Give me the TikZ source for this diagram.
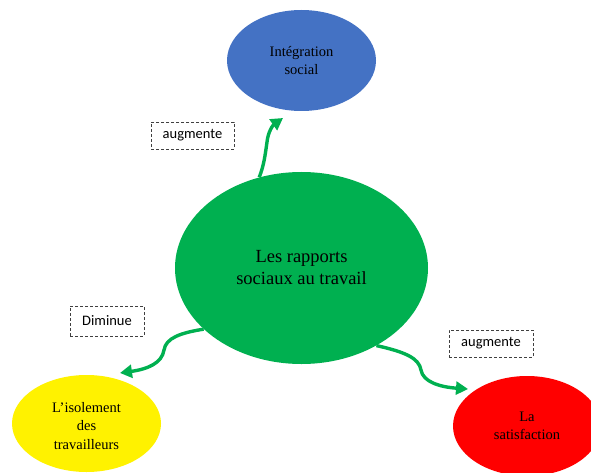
\documentclass[tikz,border=0pt]{standalone}
\usepackage{fontspec}
\setmainfont{Liberation Serif}
\newfontfamily\labelfont{Carlito}
\usetikzlibrary{arrows.meta, shapes.geometric}

\begin{document}
\begin{tikzpicture}[x=1pt, y=-1pt, >={Triangle[length=12pt, width=13pt]},
    bubble/.style={ellipse, inner sep=0pt, align=center, text=black,
        font=\fontsize{14.5}{18.5}\selectfont},
    link/.style={->, line width=3.4pt, draw=arrowgreen},
    verb_box/.style={draw=black!75, dash pattern=on 3pt off 2pt, thin,
        minimum height=27pt, inner sep=0pt, font=\labelfont\fontsize{14.5}{16}\selectfont}
]
\definecolor{bluebub}{HTML}{4472C4}
\definecolor{greenbub}{HTML}{00B050}
\definecolor{arrowgreen}{HTML}{00B050}

% Fix the page size
\useasboundingbox (0,0) rectangle (591,473);
\clip (0,0) rectangle (591,473);

% The four bubbles
\node[bubble, fill=greenbub, minimum width=253pt, minimum height=192pt,
    font=\fontsize{18.5}{22}\selectfont] (rapports) at (301.5,268) {Les rapports\\sociaux au travail};
\node[bubble, fill=bluebub, minimum width=149pt, minimum height=101pt] (integration) at (301.5,60.5)
    {Intégration\\social};
\node[bubble, fill=yellow, minimum width=149pt, minimum height=97pt] (isolement) at (86.5,423.5)
    {\\[-4pt]L’isolement\\des\\travailleurs};
\node[bubble, fill=red, minimum width=148pt, minimum height=100pt] (satisfaction) at (527,426)
    {La\\satisfaction};

% Free ends of the arrows
\coordinate (tip1) at (283,118);
\coordinate (tip2) at (120,373);
\coordinate (tip3) at (468,389);

% Curved arrows out of the centre bubble
\draw[link] (rapports.115) .. controls (264,165) and (265,156) .. (267,142)
    .. controls (268,132) and (273,125) .. (tip1);
\draw[link] (rapports.212) .. controls (180,333) and (166,338) .. (164,350)
    .. controls (162,363) and (148,369) .. (tip2);
\draw[link] (rapports.-46) .. controls (405,352) and (419,358) .. (421,370)
    .. controls (423,382) and (440,387) .. (tip3);

% Dashed verb boxes
\node[verb_box, minimum width=83pt] (augmente1) at (192.5,135.5) {augmente};
\node[verb_box, minimum width=74pt, minimum height=30pt] (diminue) at (107,321) {Diminue};
\node[verb_box, minimum width=84pt] (augmente2) at (491,343.5) {augmente};

\end{tikzpicture}
\end{document}
